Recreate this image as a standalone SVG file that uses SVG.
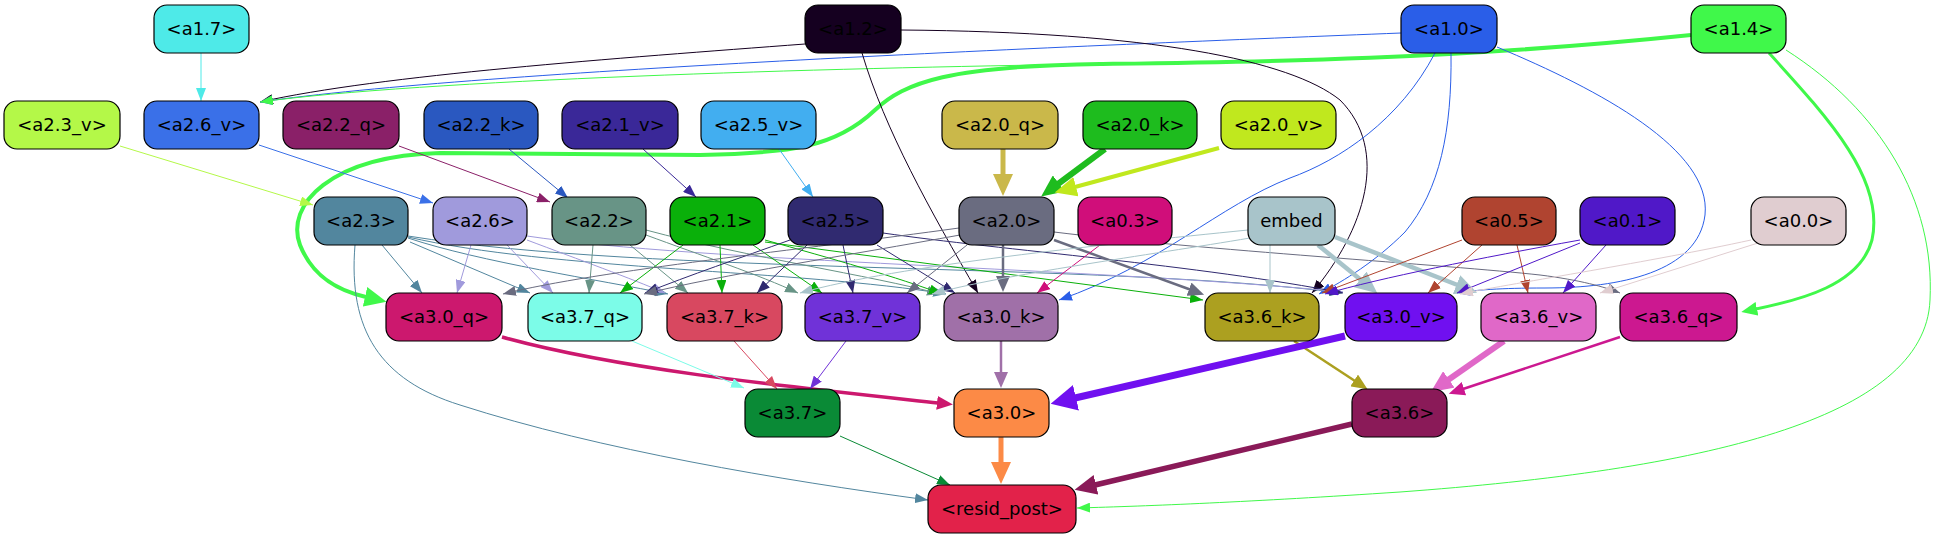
<svg xmlns="http://www.w3.org/2000/svg" width="1940" height="539" viewBox="0 0 1940 539">
<style>
.n rect{stroke:#000;stroke-width:1.2}
.n text{font-family:"DejaVu Sans",sans-serif;font-size:18px;text-anchor:middle;fill:#000}
#edges path{fill:none}
</style>
<defs>
<marker id="t4eeae8" viewBox="0 0 13 10" refX="13" refY="5" markerWidth="13" markerHeight="10" orient="auto" markerUnits="userSpaceOnUse"><path d="M0,0L13,5L0,10z" fill="#4eeae8"/></marker>
<marker id="t150020" viewBox="0 0 13 10" refX="13" refY="5" markerWidth="13" markerHeight="10" orient="auto" markerUnits="userSpaceOnUse"><path d="M0,0L13,5L0,10z" fill="#150020"/></marker>
<marker id="t2a5ee8" viewBox="0 0 13 10" refX="13" refY="5" markerWidth="13" markerHeight="10" orient="auto" markerUnits="userSpaceOnUse"><path d="M0,0L13,5L0,10z" fill="#2a5ee8"/></marker>
<marker id="t40f84a" viewBox="0 0 13 10" refX="13" refY="5" markerWidth="13" markerHeight="10" orient="auto" markerUnits="userSpaceOnUse"><path d="M0,0L13,5L0,10z" fill="#40f84a"/></marker>
<marker id="tb4f848" viewBox="0 0 13 10" refX="13" refY="5" markerWidth="13" markerHeight="10" orient="auto" markerUnits="userSpaceOnUse"><path d="M0,0L13,5L0,10z" fill="#b4f848"/></marker>
<marker id="t3a70e8" viewBox="0 0 13 10" refX="13" refY="5" markerWidth="13" markerHeight="10" orient="auto" markerUnits="userSpaceOnUse"><path d="M0,0L13,5L0,10z" fill="#3a70e8"/></marker>
<marker id="t8a2068" viewBox="0 0 13 10" refX="13" refY="5" markerWidth="13" markerHeight="10" orient="auto" markerUnits="userSpaceOnUse"><path d="M0,0L13,5L0,10z" fill="#8a2068"/></marker>
<marker id="t2a58c0" viewBox="0 0 13 10" refX="13" refY="5" markerWidth="13" markerHeight="10" orient="auto" markerUnits="userSpaceOnUse"><path d="M0,0L13,5L0,10z" fill="#2a58c0"/></marker>
<marker id="t3a2898" viewBox="0 0 13 10" refX="13" refY="5" markerWidth="13" markerHeight="10" orient="auto" markerUnits="userSpaceOnUse"><path d="M0,0L13,5L0,10z" fill="#3a2898"/></marker>
<marker id="t42aef0" viewBox="0 0 13 10" refX="13" refY="5" markerWidth="13" markerHeight="10" orient="auto" markerUnits="userSpaceOnUse"><path d="M0,0L13,5L0,10z" fill="#42aef0"/></marker>
<marker id="t52869e" viewBox="0 0 13 10" refX="13" refY="5" markerWidth="13" markerHeight="10" orient="auto" markerUnits="userSpaceOnUse"><path d="M0,0L13,5L0,10z" fill="#52869e"/></marker>
<marker id="ta09adc" viewBox="0 0 13 10" refX="13" refY="5" markerWidth="13" markerHeight="10" orient="auto" markerUnits="userSpaceOnUse"><path d="M0,0L13,5L0,10z" fill="#a09adc"/></marker>
<marker id="t689486" viewBox="0 0 13 10" refX="13" refY="5" markerWidth="13" markerHeight="10" orient="auto" markerUnits="userSpaceOnUse"><path d="M0,0L13,5L0,10z" fill="#689486"/></marker>
<marker id="t0ab00a" viewBox="0 0 13 10" refX="13" refY="5" markerWidth="13" markerHeight="10" orient="auto" markerUnits="userSpaceOnUse"><path d="M0,0L13,5L0,10z" fill="#0ab00a"/></marker>
<marker id="t302a70" viewBox="0 0 13 10" refX="13" refY="5" markerWidth="13" markerHeight="10" orient="auto" markerUnits="userSpaceOnUse"><path d="M0,0L13,5L0,10z" fill="#302a70"/></marker>
<marker id="t6a6c80" viewBox="0 0 13 10" refX="13" refY="5" markerWidth="13" markerHeight="10" orient="auto" markerUnits="userSpaceOnUse"><path d="M0,0L13,5L0,10z" fill="#6a6c80"/></marker>
<marker id="td00e7a" viewBox="0 0 13 10" refX="13" refY="5" markerWidth="13" markerHeight="10" orient="auto" markerUnits="userSpaceOnUse"><path d="M0,0L13,5L0,10z" fill="#d00e7a"/></marker>
<marker id="ta8c4ca" viewBox="0 0 13 10" refX="13" refY="5" markerWidth="13" markerHeight="10" orient="auto" markerUnits="userSpaceOnUse"><path d="M0,0L13,5L0,10z" fill="#a8c4ca"/></marker>
<marker id="tb04430" viewBox="0 0 13 10" refX="13" refY="5" markerWidth="13" markerHeight="10" orient="auto" markerUnits="userSpaceOnUse"><path d="M0,0L13,5L0,10z" fill="#b04430"/></marker>
<marker id="t5018c8" viewBox="0 0 13 10" refX="13" refY="5" markerWidth="13" markerHeight="10" orient="auto" markerUnits="userSpaceOnUse"><path d="M0,0L13,5L0,10z" fill="#5018c8"/></marker>
<marker id="te0cdd0" viewBox="0 0 13 10" refX="13" refY="5" markerWidth="13" markerHeight="10" orient="auto" markerUnits="userSpaceOnUse"><path d="M0,0L13,5L0,10z" fill="#e0cdd0"/></marker>
<marker id="t7cfce8" viewBox="0 0 13 10" refX="13" refY="5" markerWidth="13" markerHeight="10" orient="auto" markerUnits="userSpaceOnUse"><path d="M0,0L13,5L0,10z" fill="#7cfce8"/></marker>
<marker id="td84860" viewBox="0 0 13 10" refX="13" refY="5" markerWidth="13" markerHeight="10" orient="auto" markerUnits="userSpaceOnUse"><path d="M0,0L13,5L0,10z" fill="#d84860"/></marker>
<marker id="t7032d8" viewBox="0 0 13 10" refX="13" refY="5" markerWidth="13" markerHeight="10" orient="auto" markerUnits="userSpaceOnUse"><path d="M0,0L13,5L0,10z" fill="#7032d8"/></marker>
<marker id="t0a8a36" viewBox="0 0 13 10" refX="13" refY="5" markerWidth="13" markerHeight="10" orient="auto" markerUnits="userSpaceOnUse"><path d="M0,0L13,5L0,10z" fill="#0a8a36"/></marker>
<marker id="m40f84a" viewBox="0 0 16 14" refX="1" refY="7" markerWidth="16" markerHeight="14" orient="auto" markerUnits="userSpaceOnUse"><path d="M0,0L16,7L0,14z" fill="#40f84a"/></marker>
<marker id="m6a6c80" viewBox="0 0 16 14" refX="1" refY="7" markerWidth="16" markerHeight="14" orient="auto" markerUnits="userSpaceOnUse"><path d="M0,0L16,7L0,14z" fill="#6a6c80"/></marker>
<marker id="mcc186e" viewBox="0 0 16 14" refX="1" refY="7" markerWidth="16" markerHeight="14" orient="auto" markerUnits="userSpaceOnUse"><path d="M0,0L16,7L0,14z" fill="#cc186e"/></marker>
<marker id="ma070a8" viewBox="0 0 16 14" refX="1" refY="7" markerWidth="16" markerHeight="14" orient="auto" markerUnits="userSpaceOnUse"><path d="M0,0L16,7L0,14z" fill="#a070a8"/></marker>
<marker id="maca020" viewBox="0 0 16 14" refX="1" refY="7" markerWidth="16" markerHeight="14" orient="auto" markerUnits="userSpaceOnUse"><path d="M0,0L16,7L0,14z" fill="#aca020"/></marker>
<marker id="mcc1890" viewBox="0 0 16 14" refX="1" refY="7" markerWidth="16" markerHeight="14" orient="auto" markerUnits="userSpaceOnUse"><path d="M0,0L16,7L0,14z" fill="#cc1890"/></marker>
<marker id="Lcab84a" viewBox="0 0 22 20" refX="1" refY="10" markerWidth="22" markerHeight="20" orient="auto" markerUnits="userSpaceOnUse"><path d="M0,0L22,10L0,20z" fill="#cab84a"/></marker>
<marker id="L1ebc1e" viewBox="0 0 22 20" refX="1" refY="10" markerWidth="22" markerHeight="20" orient="auto" markerUnits="userSpaceOnUse"><path d="M0,0L22,10L0,20z" fill="#1ebc1e"/></marker>
<marker id="Lc0e81e" viewBox="0 0 22 20" refX="1" refY="10" markerWidth="22" markerHeight="20" orient="auto" markerUnits="userSpaceOnUse"><path d="M0,0L22,10L0,20z" fill="#c0e81e"/></marker>
<marker id="L40f84a" viewBox="0 0 22 20" refX="1" refY="10" markerWidth="22" markerHeight="20" orient="auto" markerUnits="userSpaceOnUse"><path d="M0,0L22,10L0,20z" fill="#40f84a"/></marker>
<marker id="La8c4ca" viewBox="0 0 22 20" refX="1" refY="10" markerWidth="22" markerHeight="20" orient="auto" markerUnits="userSpaceOnUse"><path d="M0,0L22,10L0,20z" fill="#a8c4ca"/></marker>
<marker id="L7010f0" viewBox="0 0 26 26" refX="1" refY="13" markerWidth="26" markerHeight="26" orient="auto" markerUnits="userSpaceOnUse"><path d="M0,0L26,13L0,26z" fill="#7010f0"/></marker>
<marker id="Le068c8" viewBox="0 0 22 20" refX="1" refY="10" markerWidth="22" markerHeight="20" orient="auto" markerUnits="userSpaceOnUse"><path d="M0,0L22,10L0,20z" fill="#e068c8"/></marker>
<marker id="Lfc8a46" viewBox="0 0 22 20" refX="1" refY="10" markerWidth="22" markerHeight="20" orient="auto" markerUnits="userSpaceOnUse"><path d="M0,0L22,10L0,20z" fill="#fc8a46"/></marker>
<marker id="L8a1a58" viewBox="0 0 22 20" refX="1" refY="10" markerWidth="22" markerHeight="20" orient="auto" markerUnits="userSpaceOnUse"><path d="M0,0L22,10L0,20z" fill="#8a1a58"/></marker>
</defs>
<rect width="1940" height="539" fill="#fff"/>
<g id="edges">
<path d="M201,53 L201,101" stroke="#4eeae8" marker-end="url(#t4eeae8)"/>
<path d="M805,44 C620,58 380,75 260,102" stroke="#150020" marker-end="url(#t150020)"/>
<path d="M1401,33 C1100,45 480,70 260,102" stroke="#2a5ee8" marker-end="url(#t2a5ee8)"/>
<path d="M1691,35 C1450,58 1250,62 1100,64 C820,68 420,80 260,102" stroke="#40f84a" marker-end="url(#t40f84a)"/>
<path d="M1691,35 C1450,60 1250,62 1100,64 C950,66 905,82 875,110 C835,148 790,153 700,155 L440,153 C330,156 285,205 300,245 C312,275 335,290 366,297" stroke="#40f84a" stroke-width="4" marker-end="url(#L40f84a)"/>
<path d="M1769,53 C1830,120 1885,180 1872,240 C1860,285 1800,300 1756,309" stroke="#40f84a" stroke-width="3" marker-end="url(#m40f84a)"/>
<path d="M1786,50 C1880,110 1935,200 1930,300 C1925,420 1700,470 1400,492 C1250,502 1150,506 1077,508" stroke="#40f84a" marker-end="url(#t40f84a)"/>
<path d="M862,53 C885,130 930,210 978,293" stroke="#150020" marker-end="url(#t150020)"/>
<path d="M901,30 C1150,32 1290,60 1340,100 C1390,150 1365,230 1312,293" stroke="#150020" marker-end="url(#t150020)"/>
<path d="M1435,53 C1400,120 1340,160 1290,178 C1220,205 1160,265 1059,300" stroke="#2a5ee8" marker-end="url(#t2a5ee8)"/>
<path d="M1451,53 C1452,130 1440,190 1405,232 C1375,262 1345,280 1319,294" stroke="#2a5ee8" marker-end="url(#t2a5ee8)"/>
<path d="M1497,47 C1600,90 1712,150 1705,215 C1698,272 1620,288 1545,288 C1500,288 1475,290 1457,293" stroke="#2a5ee8" marker-end="url(#t2a5ee8)"/>
<path d="M120,146 L313,205" stroke="#b4f848" marker-end="url(#tb4f848)"/>
<path d="M259,145 L433,203" stroke="#3a70e8" marker-end="url(#t3a70e8)"/>
<path d="M399,146 L550,202" stroke="#8a2068" marker-end="url(#t8a2068)"/>
<path d="M509,149 L568,198" stroke="#2a58c0" marker-end="url(#t2a58c0)"/>
<path d="M643,149 L696,197" stroke="#3a2898" marker-end="url(#t3a2898)"/>
<path d="M779,149 L813,197" stroke="#42aef0" marker-end="url(#t42aef0)"/>
<path d="M1003,149 L1003,175" stroke="#cab84a" stroke-width="5" marker-end="url(#Lcab84a)"/>
<path d="M1105,149 L1058,184" stroke="#1ebc1e" stroke-width="6" marker-end="url(#L1ebc1e)"/>
<path d="M1219,148 L1075,187" stroke="#c0e81e" stroke-width="4" marker-end="url(#Lc0e81e)"/>
<path d="M382,245 L422,293" stroke="#52869e" marker-end="url(#t52869e)"/>
<path d="M410,242 L530,293" stroke="#52869e" marker-end="url(#t52869e)"/>
<path d="M408,238 C480,262 600,280 668,294" stroke="#52869e" marker-end="url(#t52869e)"/>
<path d="M408,237 C550,270 800,270 946,294" stroke="#52869e" marker-end="url(#t52869e)"/>
<path d="M408,236 C650,275 1100,262 1342,293" stroke="#52869e" marker-end="url(#t52869e)"/>
<path d="M355,245 C348,330 380,380 460,405 C600,450 780,480 928,500" stroke="#52869e" marker-end="url(#t52869e)"/>
<path d="M471,245 L457,293" stroke="#a09adc" marker-end="url(#ta09adc)"/>
<path d="M507,245 L553,293" stroke="#a09adc" marker-end="url(#ta09adc)"/>
<path d="M527,240 C580,260 630,278 665,293" stroke="#a09adc" marker-end="url(#ta09adc)"/>
<path d="M527,236 C700,262 1100,268 1343,292" stroke="#a09adc" marker-end="url(#ta09adc)"/>
<path d="M593,245 L589,293" stroke="#689486" marker-end="url(#t689486)"/>
<path d="M630,245 L688,293" stroke="#689486" marker-end="url(#t689486)"/>
<path d="M646,235 C700,255 760,275 798,293" stroke="#689486" marker-end="url(#t689486)"/>
<path d="M646,230 C750,258 870,275 940,294" stroke="#689486" marker-end="url(#t689486)"/>
<path d="M683,245 L620,293" stroke="#0ab00a" marker-end="url(#t0ab00a)"/>
<path d="M720,245 L722,293" stroke="#0ab00a" marker-end="url(#t0ab00a)"/>
<path d="M753,245 L822,293" stroke="#0ab00a" marker-end="url(#t0ab00a)"/>
<path d="M765,240 C830,258 900,278 942,294" stroke="#0ab00a" marker-end="url(#t0ab00a)"/>
<path d="M765,242 L1203,300" stroke="#0ab00a" marker-end="url(#t0ab00a)"/>
<path d="M790,240 C740,258 690,275 645,293" stroke="#302a70" marker-end="url(#t302a70)"/>
<path d="M807,245 L757,293" stroke="#302a70" marker-end="url(#t302a70)"/>
<path d="M843,245 L853,293" stroke="#302a70" marker-end="url(#t302a70)"/>
<path d="M877,245 L955,293" stroke="#302a70" marker-end="url(#t302a70)"/>
<path d="M883,233 C1000,250 1200,265 1343,293" stroke="#302a70" marker-end="url(#t302a70)"/>
<path d="M959,228 C800,250 600,270 503,294" stroke="#6a6c80" marker-end="url(#t6a6c80)"/>
<path d="M960,235 C850,255 720,275 644,294" stroke="#6a6c80" marker-end="url(#t6a6c80)"/>
<path d="M967,245 L907,293" stroke="#6a6c80" marker-end="url(#t6a6c80)"/>
<path d="M1003,245 L1003,277" stroke="#6a6c80" stroke-width="2.5" marker-end="url(#m6a6c80)"/>
<path d="M1054,240 L1190,289.5" stroke="#6a6c80" stroke-width="2.5" marker-end="url(#m6a6c80)"/>
<path d="M1054,232 C1200,250 1450,265 1540,275 C1580,280 1605,287 1620,293" stroke="#6a6c80" marker-end="url(#t6a6c80)"/>
<path d="M1100,245 L1037,293" stroke="#d00e7a" marker-end="url(#td00e7a)"/>
<path d="M1248,230 C1100,245 900,265 800,293" stroke="#a8c4ca" marker-end="url(#ta8c4ca)"/>
<path d="M1250,238 C1150,255 1000,275 932,294" stroke="#a8c4ca" marker-end="url(#ta8c4ca)"/>
<path d="M1270,245 L1270,293" stroke="#a8c4ca" marker-end="url(#ta8c4ca)"/>
<path d="M1318,245 L1361,280" stroke="#a8c4ca" stroke-width="4.5" marker-end="url(#La8c4ca)"/>
<path d="M1335,237 L1457.5,285" stroke="#a8c4ca" stroke-width="4.5" marker-end="url(#La8c4ca)"/>
<path d="M1462,240 L1322,293" stroke="#b04430" marker-end="url(#tb04430)"/>
<path d="M1482,245 L1428,293" stroke="#b04430" marker-end="url(#tb04430)"/>
<path d="M1517,245 L1528,293" stroke="#b04430" marker-end="url(#tb04430)"/>
<path d="M1580,240 C1480,258 1380,278 1325,294" stroke="#5018c8" marker-end="url(#t5018c8)"/>
<path d="M1580,243 L1457,293" stroke="#5018c8" marker-end="url(#t5018c8)"/>
<path d="M1606,245 L1563,293" stroke="#5018c8" marker-end="url(#t5018c8)"/>
<path d="M1751,240 C1650,262 1520,282 1460,294" stroke="#e0cdd0" marker-end="url(#te0cdd0)"/>
<path d="M1758,243 L1600,293" stroke="#e0cdd0" marker-end="url(#te0cdd0)"/>
<path d="M502,337 C620,370 800,388 938,403" stroke="#cc186e" stroke-width="3.5" marker-end="url(#mcc186e)"/>
<path d="M632,341 L744,388" stroke="#7cfce8" marker-end="url(#t7cfce8)"/>
<path d="M734,341 L777,389" stroke="#d84860" marker-end="url(#td84860)"/>
<path d="M846,341 L810,389" stroke="#7032d8" marker-end="url(#t7032d8)"/>
<path d="M1001,341 L1001,373" stroke="#a070a8" stroke-width="2.5" marker-end="url(#ma070a8)"/>
<path d="M1294,341 L1355,381" stroke="#aca020" stroke-width="2.5" marker-end="url(#maca020)"/>
<path d="M1345,336 C1250,358 1160,378 1075,398" stroke="#7010f0" stroke-width="7" marker-end="url(#L7010f0)"/>
<path d="M1504,341 L1448,380" stroke="#e068c8" stroke-width="6" marker-end="url(#Le068c8)"/>
<path d="M1620,337 L1463,389" stroke="#cc1890" stroke-width="2.5" marker-end="url(#mcc1890)"/>
<path d="M840,436 L950,485" stroke="#0a8a36" marker-end="url(#t0a8a36)"/>
<path d="M1001,437 L1001,463" stroke="#fc8a46" stroke-width="5" marker-end="url(#Lfc8a46)"/>
<path d="M1352,424 L1095,485" stroke="#8a1a58" stroke-width="5.5" marker-end="url(#L8a1a58)"/>
</g>
<g id="a1.7" class="n"><rect x="154" y="5" width="95" height="48" rx="13" fill="#4eeae8"/><text x="201.5" y="35">&lt;a1.7&gt;</text></g>
<g id="a1.2" class="n"><rect x="805" y="5" width="96" height="48" rx="13" fill="#150020"/><text x="853" y="35">&lt;a1.2&gt;</text></g>
<g id="a1.0" class="n"><rect x="1401" y="5" width="96" height="48" rx="13" fill="#2a5ee8"/><text x="1449" y="35">&lt;a1.0&gt;</text></g>
<g id="a1.4" class="n"><rect x="1691" y="5" width="95" height="48" rx="13" fill="#40f84a"/><text x="1738.5" y="35">&lt;a1.4&gt;</text></g>
<g id="a2.3_v" class="n"><rect x="4" y="101" width="116" height="48" rx="13" fill="#b4f848"/><text x="62" y="131">&lt;a2.3_v&gt;</text></g>
<g id="a2.6_v" class="n"><rect x="144" y="101" width="115" height="48" rx="13" fill="#3a70e8"/><text x="201.5" y="131">&lt;a2.6_v&gt;</text></g>
<g id="a2.2_q" class="n"><rect x="283" y="101" width="116" height="48" rx="13" fill="#8a2068"/><text x="341" y="131">&lt;a2.2_q&gt;</text></g>
<g id="a2.2_k" class="n"><rect x="424" y="101" width="114" height="48" rx="13" fill="#2a58c0"/><text x="481" y="131">&lt;a2.2_k&gt;</text></g>
<g id="a2.1_v" class="n"><rect x="562" y="101" width="116" height="48" rx="13" fill="#3a2898"/><text x="620" y="131">&lt;a2.1_v&gt;</text></g>
<g id="a2.5_v" class="n"><rect x="701" y="101" width="115" height="48" rx="13" fill="#42aef0"/><text x="758.5" y="131">&lt;a2.5_v&gt;</text></g>
<g id="a2.0_q" class="n"><rect x="942" y="101" width="116" height="48" rx="13" fill="#cab84a"/><text x="1000" y="131">&lt;a2.0_q&gt;</text></g>
<g id="a2.0_k" class="n"><rect x="1083" y="101" width="114" height="48" rx="13" fill="#1ebc1e"/><text x="1140" y="131">&lt;a2.0_k&gt;</text></g>
<g id="a2.0_v" class="n"><rect x="1221" y="101" width="115" height="48" rx="13" fill="#c0e81e"/><text x="1278.5" y="131">&lt;a2.0_v&gt;</text></g>
<g id="a2.3" class="n"><rect x="314" y="197" width="94" height="48" rx="13" fill="#52869e"/><text x="361" y="227">&lt;a2.3&gt;</text></g>
<g id="a2.6" class="n"><rect x="433" y="197" width="94" height="48" rx="13" fill="#a09adc"/><text x="480" y="227">&lt;a2.6&gt;</text></g>
<g id="a2.2" class="n"><rect x="552" y="197" width="94" height="48" rx="13" fill="#689486"/><text x="599" y="227">&lt;a2.2&gt;</text></g>
<g id="a2.1" class="n"><rect x="670" y="197" width="95" height="48" rx="13" fill="#0ab00a"/><text x="717.5" y="227">&lt;a2.1&gt;</text></g>
<g id="a2.5" class="n"><rect x="788" y="197" width="95" height="48" rx="13" fill="#302a70"/><text x="835.5" y="227">&lt;a2.5&gt;</text></g>
<g id="a2.0" class="n"><rect x="959" y="197" width="95" height="48" rx="13" fill="#6a6c80"/><text x="1006.5" y="227">&lt;a2.0&gt;</text></g>
<g id="a0.3" class="n"><rect x="1078" y="197" width="94" height="48" rx="13" fill="#d00e7a"/><text x="1125" y="227">&lt;a0.3&gt;</text></g>
<g id="embed" class="n"><rect x="1248" y="197" width="87" height="48" rx="13" fill="#a8c4ca"/><text x="1291.5" y="227">embed</text></g>
<g id="a0.5" class="n"><rect x="1462" y="197" width="94" height="48" rx="13" fill="#b04430"/><text x="1509" y="227">&lt;a0.5&gt;</text></g>
<g id="a0.1" class="n"><rect x="1580" y="197" width="95" height="48" rx="13" fill="#5018c8"/><text x="1627.5" y="227">&lt;a0.1&gt;</text></g>
<g id="a0.0" class="n"><rect x="1751" y="197" width="95" height="48" rx="13" fill="#e0cdd0"/><text x="1798.5" y="227">&lt;a0.0&gt;</text></g>
<g id="a3.0_q" class="n"><rect x="386" y="293" width="116" height="48" rx="13" fill="#cc186e"/><text x="444" y="323">&lt;a3.0_q&gt;</text></g>
<g id="a3.7_q" class="n"><rect x="528" y="293" width="114" height="48" rx="13" fill="#7cfce8"/><text x="585" y="323">&lt;a3.7_q&gt;</text></g>
<g id="a3.7_k" class="n"><rect x="667" y="293" width="115" height="48" rx="13" fill="#d84860"/><text x="724.5" y="323">&lt;a3.7_k&gt;</text></g>
<g id="a3.7_v" class="n"><rect x="805" y="293" width="115" height="48" rx="13" fill="#7032d8"/><text x="862.5" y="323">&lt;a3.7_v&gt;</text></g>
<g id="a3.0_k" class="n"><rect x="944" y="293" width="114" height="48" rx="13" fill="#a070a8"/><text x="1001" y="323">&lt;a3.0_k&gt;</text></g>
<g id="a3.6_k" class="n"><rect x="1205" y="293" width="114" height="48" rx="13" fill="#aca020"/><text x="1262" y="323">&lt;a3.6_k&gt;</text></g>
<g id="a3.0_v" class="n"><rect x="1345" y="293" width="112" height="48" rx="13" fill="#7010f0"/><text x="1401" y="323">&lt;a3.0_v&gt;</text></g>
<g id="a3.6_v" class="n"><rect x="1481" y="293" width="115" height="48" rx="13" fill="#e068c8"/><text x="1538.5" y="323">&lt;a3.6_v&gt;</text></g>
<g id="a3.6_q" class="n"><rect x="1620" y="293" width="117" height="48" rx="13" fill="#cc1890"/><text x="1678.5" y="323">&lt;a3.6_q&gt;</text></g>
<g id="a3.7" class="n"><rect x="745" y="389" width="95" height="48" rx="13" fill="#0a8a36"/><text x="792.5" y="419">&lt;a3.7&gt;</text></g>
<g id="a3.0" class="n"><rect x="954" y="389" width="95" height="48" rx="13" fill="#fc8a46"/><text x="1001.5" y="419">&lt;a3.0&gt;</text></g>
<g id="a3.6" class="n"><rect x="1352" y="389" width="95" height="48" rx="13" fill="#8a1a58"/><text x="1399.5" y="419">&lt;a3.6&gt;</text></g>
<g id="resid_post" class="n"><rect x="928" y="485" width="148" height="48" rx="13" fill="#e2224a"/><text x="1002" y="515">&lt;resid_post&gt;</text></g>
</svg>
